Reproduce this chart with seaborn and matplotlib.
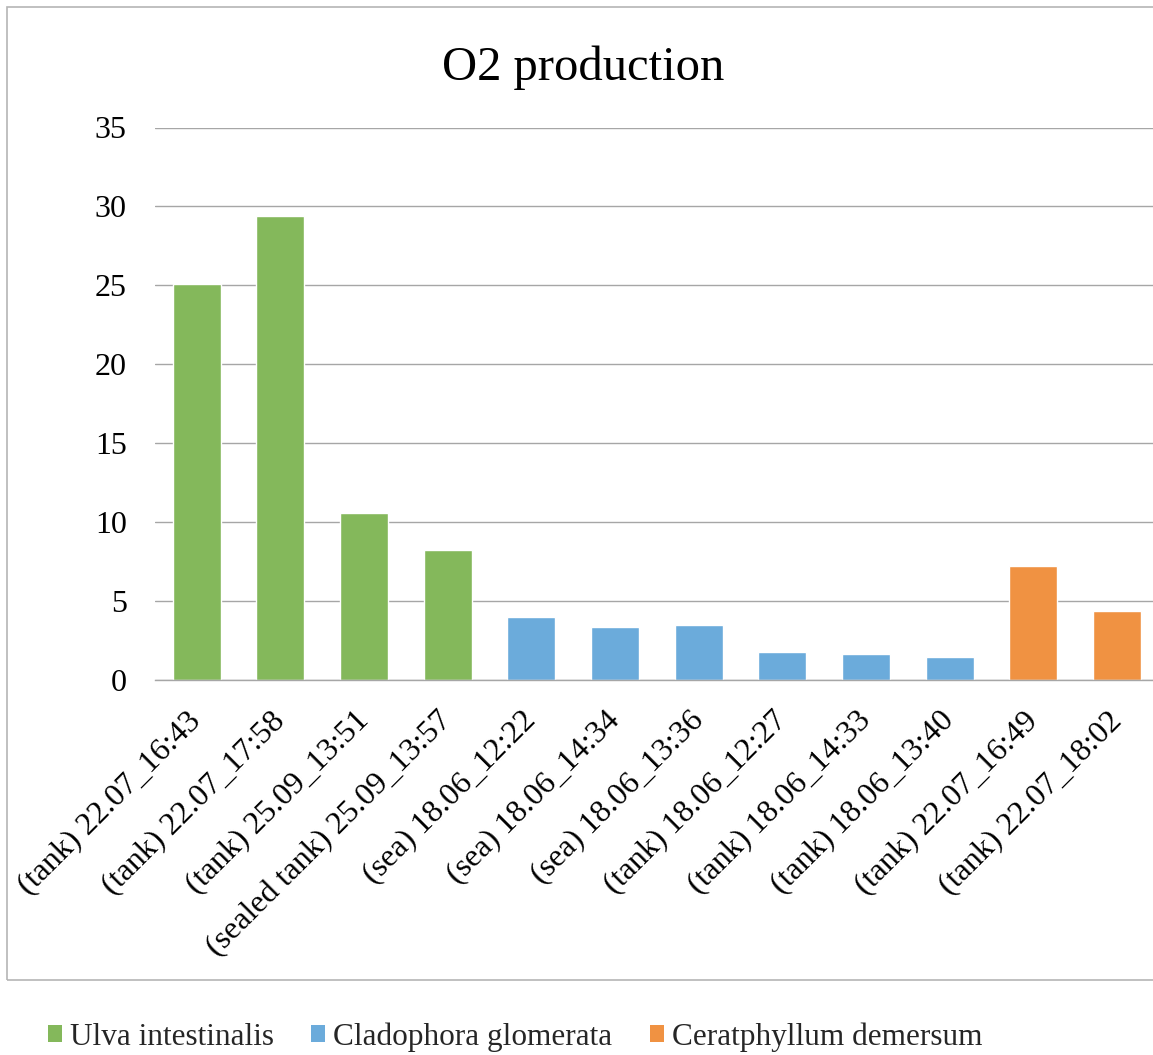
import matplotlib
matplotlib.use("Agg")
import matplotlib.pyplot as plt
import matplotlib.patches as mpatches
import seaborn as sns
import pandas as pd

# Sample labels, O2 production values and species per sample
samples = [
    "(tank) 22.07_16:43",
    "(tank) 22.07_17:58",
    "(tank) 25.09_13:51",
    "(sealed tank) 25.09_13:57",
    "(sea) 18.06_12:22",
    "(sea) 18.06_14:34",
    "(sea) 18.06_13:36",
    "(tank) 18.06_12:27",
    "(tank) 18.06_14:33",
    "(tank) 18.06_13:40",
    "(tank) 22.07_16:49",
    "(tank) 22.07_18:02",
]
o2_values = [25.1, 29.4, 10.6, 8.25, 4.0, 3.35, 3.48, 1.78, 1.66, 1.47, 7.2, 4.39]
species = (["Ulva intestinalis"] * 4
           + ["Cladophora glomerata"] * 6
           + ["Ceratphyllum demersum"] * 2)
species_order = ["Ulva intestinalis", "Cladophora glomerata", "Ceratphyllum demersum"]
species_colors = ["#84B85B", "#6BABDB", "#F09242"]
y_ticks = [0, 5, 10, 15, 20, 25, 30, 35]

df = pd.DataFrame({"sample": samples, "o2": o2_values, "species": species})

sns.set_theme(style="white")
plt.rcParams["font.family"] = ["Liberation Serif", "DejaVu Serif"]

W, H = 1153, 1055
fig = plt.figure(figsize=(W / 100, H / 100), dpi=100)
fig.patch.set_facecolor("white")

left, right = 154.7, 1158.8
top, bottom = 127.5, 680.0
ax = fig.add_axes([left / W, 1 - bottom / H, (right - left) / W, (bottom - top) / H])

palette = dict(zip(species_order, species_colors))
sns.barplot(data=df, x="sample", y="o2", hue="species", hue_order=species_order,
            palette=palette, dodge=False, width=0.574, saturation=1,
            legend=False, ax=ax, order=samples)

ax.set_xlim(-0.5, len(samples) - 0.5)
ax.set_ylim(0, 35)
ax.set_yticks(y_ticks)
ax.set_xlabel("")
ax.set_ylabel("")
ax.grid(axis="y", color="#A6A6A6", linewidth=1.0)
ax.set_axisbelow(True)
for side in ["top", "right", "left"]:
    ax.spines[side].set_visible(False)
ax.spines["bottom"].set_color("#A6A6A6")
ax.spines["bottom"].set_linewidth(1.0)
ax.tick_params(axis="y", length=0, pad=20, labelsize=23, colors="black")
ax.tick_params(axis="x", length=0, pad=26, labelsize=23, colors="black")
for lbl in ax.get_xticklabels():
    lbl.set_rotation(45)
    lbl.set_ha("right")
    lbl.set_va("center")
    lbl.set_rotation_mode("anchor")

fig.text(583 / W, 1 - 68 / H, "O2 production", ha="center", va="center",
         fontsize=35, color="black")

# Outer chart border
fig.patches.append(mpatches.Rectangle((7 / W, 1 - 980 / H), (1170 - 7) / W, (980 - 7) / H,
                                      transform=fig.transFigure, fill=False,
                                      edgecolor="#B5B5B5", linewidth=1.2))

handles = [mpatches.Patch(facecolor=c, edgecolor="none", label=s)
           for s, c in zip(species_order, species_colors)]
fig.legend(handles=handles, loc="center", bbox_to_anchor=(515 / W, 1 - 1037 / H),
           ncol=3, frameon=False, fontsize=22.5, handlelength=0.45, handleheight=0.45,
           handletextpad=0.25, columnspacing=1.2)

fig.savefig("out.png", dpi=100, facecolor="white")
